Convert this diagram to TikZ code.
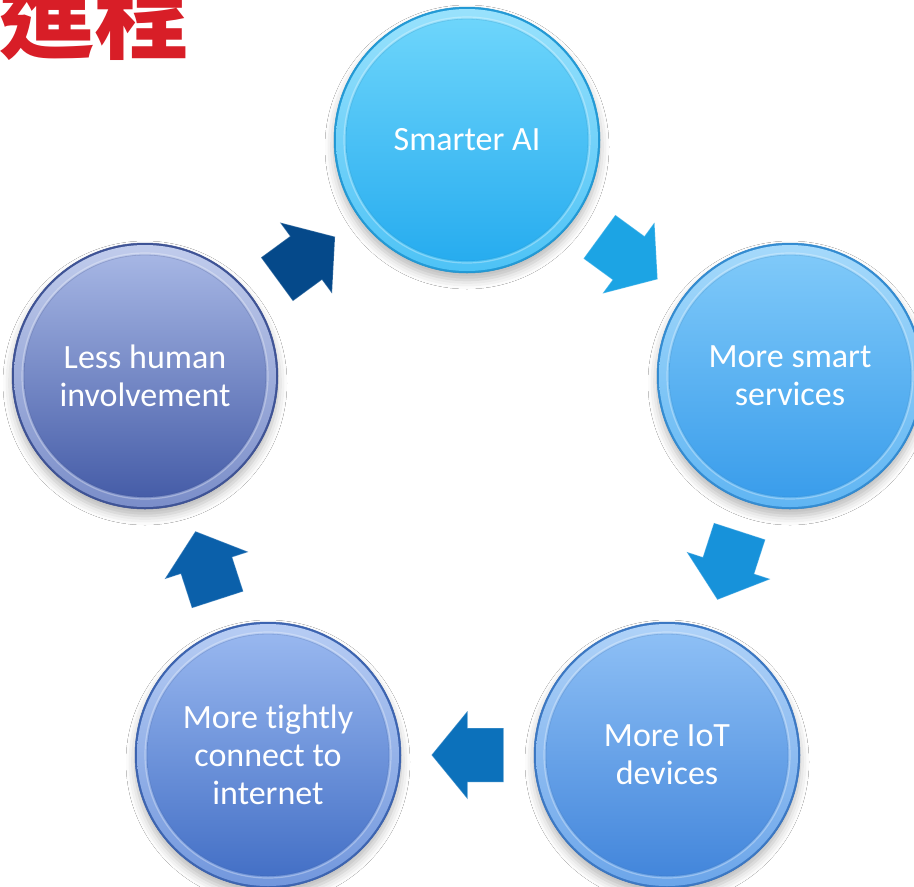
\documentclass[tikz,border=0pt]{standalone}
\usepackage{fontspec}
\setmainfont{Carlito}[Ligatures=NoCommon]
\newfontfamily\cjk{Noto Sans CJK TC}
\usetikzlibrary{shadows.blur,calc}
\definecolor{titlered}{HTML}{D81E27}
\definecolor{aiL}{HTML}{6DD5FB}\definecolor{aiD}{HTML}{27ACEF}
\definecolor{svL}{HTML}{7FC9F9}\definecolor{svD}{HTML}{3A9DEB}
\definecolor{ioL}{HTML}{8DBFF5}\definecolor{ioD}{HTML}{4386DB}
\definecolor{neL}{HTML}{98B7EF}\definecolor{neD}{HTML}{4470C6}
\definecolor{leL}{HTML}{A6B6E4}\definecolor{leD}{HTML}{465DA8}
\definecolor{arrA}{HTML}{1CA4E4}
\definecolor{arrB}{HTML}{1792DA}
\definecolor{arrC}{HTML}{0C71BB}
\definecolor{arrD}{HTML}{0B60AA}
\definecolor{arrE}{HTML}{05498A}
\tikzset{
  bubble/.style n args={2}{circle, minimum size=266pt, inner sep=0pt,
    text=white, align=center, font=\fontsize{34}{38}\selectfont,
    blur shadow={shadow xshift=0pt, shadow yshift=-7pt, shadow blur radius=9pt, shadow opacity=28},
    fill=#2!90!black, draw=#2!85!black, line width=0.5pt,
    path picture={
      \coordinate (pc) at (path picture bounding box.center);
      \shade[top color=#1!70!white, bottom color=#1!55!#2] (pc) circle[radius=131pt];
      \shade[top color=#1, bottom color=#2] (pc) circle[radius=121pt];
      \draw[#2!80!black, opacity=0.25, line width=0.8pt] (pc) circle[radius=121pt];
      \draw[white, opacity=0.3, line width=1.2pt] (pc) circle[radius=123pt];
    }},
  blockarrow/.pic={
    \fill[#1, draw=white, draw opacity=0.22, line width=1pt, line join=miter]
      (-36,-27) -- (0,-27) -- (0,-44) -- (36,0) -- (0,44) -- (0,27) -- (-36,27) -- cycle;
  },
  flow/.style={pos=0.5, sloped, allow upside down},
}
\begin{document}
\begin{tikzpicture}[x=1pt, y=-1pt]
  \useasboundingbox (0,0) rectangle (914,887);
  \clip (0,0) rectangle (914,887);
  \fill[white] (0,0) rectangle (914,887);

  \node[anchor=base west, text=titlered, inner sep=0pt,
        font=\cjk\bfseries\fontsize{95}{95}\selectfont] (title) at (-1,51) {進程};

  \node[bubble={aiL}{aiD}] (ai)   at (467,140) {Smarter AI};
  \node[bubble={svL}{svD}] (svc)  at (790,376) {More smart\\services};
  \node[bubble={ioL}{ioD}] (iot)  at (667,755) {More IoT\\devices};
  \node[bubble={neL}{neD}] (net)  at (268,755) {More tightly\\connect to\\internet};
  \node[bubble={leL}{leD}] (less) at (145,376) {Less human\\involvement};

  \path (ai)   -- pic[flow]{blockarrow=arrA} (svc);
  \path (svc)  -- pic[flow]{blockarrow=arrB} (iot);
  \path (iot)  -- pic[flow]{blockarrow=arrC} (net);
  \path (net)  -- pic[flow]{blockarrow=arrD} (less);
  \path (less) -- pic[flow]{blockarrow=arrE} (ai);
\end{tikzpicture}
\end{document}
